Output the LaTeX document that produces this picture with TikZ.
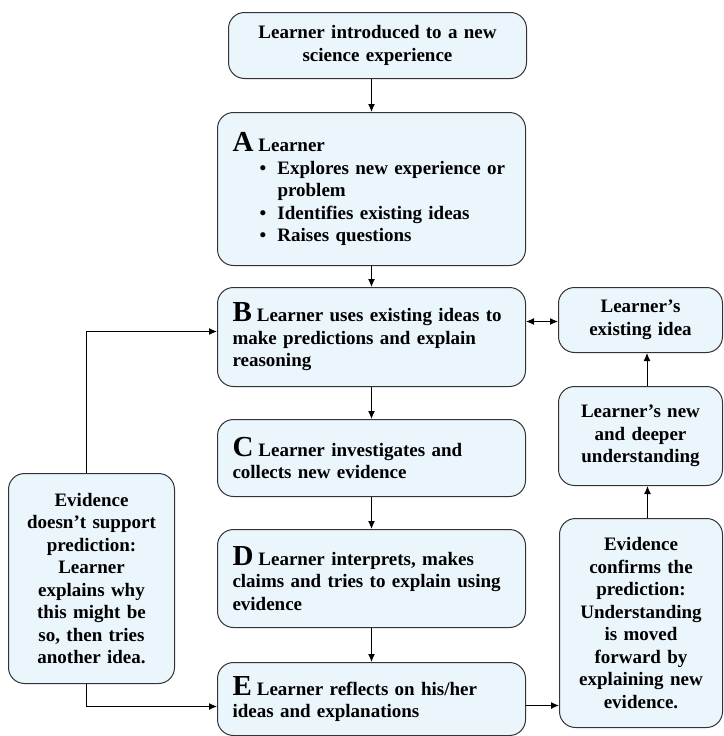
\documentclass[tikz,border=0pt]{standalone}
\usepackage{fontspec}
\setmainfont{Liberation Serif}
\usetikzlibrary{arrows.meta}
\definecolor{boxblue}{HTML}{EAF5FC}
\newcommand{\stageletter}[1]{{\fontsize{29}{22}\selectfont #1}\hspace{5pt}}
\newcommand{\stagebullet}{\hspace*{27pt}\makebox[18pt][l]{\textbullet}}

\begin{document}
\begin{tikzpicture}[x=1pt,y=-1pt,
    box/.style={draw=black!80, fill=boxblue, rounded corners=16pt, anchor=north west,
        inner xsep=8pt, line width=1pt, font=\bfseries\fontsize{19}{22.5}\selectfont},
    stagebox/.style={box, inner xsep=15pt, minimum width=308pt, text width=278pt, align=left},
    sidebox/.style={box, align=center},
    arr/.style={-{Latex[length=8pt,width=7pt]}, line width=1pt}]
    \useasboundingbox (0,0) rectangle (723,736);
    % main column
    \node[sidebox, minimum width=298pt, minimum height=66pt, text width=282pt]
        (intro) at (228,12) {Learner introduced to a new\\science experience};
    \node[stagebox, minimum height=153pt] (stepA) at (217,112) {\stageletter{A}Learner\\
        \stagebullet Explores new experience or\\
        \hspace*{45pt}problem\\
        \stagebullet Identifies existing ideas\\
        \stagebullet Raises questions};
    \node[stagebox, minimum height=99pt] (stepB) at (217,287) {\stageletter{B}Learner uses existing ideas to\\
        make predictions and explain\\reasoning};
    \node[stagebox, minimum height=77pt] (stepC) at (217,419)
        {\stageletter{C}Learner investigates and\\collects new evidence};
    \node[stagebox, minimum height=98pt] (stepD) at (217,529) {\stageletter{D}Learner interprets, makes\\
        claims and tries to explain using\\evidence};
    \node[stagebox, minimum height=73pt] (stepE) at (217,662)
        {\stageletter{E}Learner reflects on his/her\\ideas and explanations};
    % side boxes
    \node[sidebox, minimum width=166pt, minimum height=210pt, text width=150pt]
        (notsupport) at (8,473) {Evidence\\doesn't support\\prediction:\\Learner\\explains why\\
        this might be\\so, then tries\\another idea.};
    \node[sidebox, minimum width=164pt, minimum height=65pt, text width=148pt]
        (existing) at (558,287) {Learner's\\existing idea};
    \node[sidebox, minimum width=164pt, minimum height=99pt, text width=148pt]
        (deeper) at (558,386) {Learner's new\\and deeper\\understanding};
    \node[sidebox, minimum width=163pt, minimum height=209pt, text width=147pt]
        (confirms) at (559,518) {Evidence\\confirms the\\prediction:\\Understanding\\is moved\\
        forward by\\explaining new\\evidence.};
    % connectors
    \draw[arr] (intro.south -| stepA.north) -- (stepA.north);
    \draw[arr] (stepA) -- (stepB);
    \draw[arr] (stepB) -- (stepC);
    \draw[arr] (stepC) -- (stepD);
    \draw[arr] (stepD) -- (stepE);
    \draw[arr] ([xshift=-5pt]notsupport.north) |- ([yshift=5.5pt]stepB.west);
    \draw[arr] ([xshift=-5pt]notsupport.south) |- ([yshift=-7.5pt]stepE.west);
    \draw[arr] ([yshift=-6.5pt]stepE.east) -- ([yshift=-6.5pt]stepE.east -| confirms.west);
    \draw[arr] ([xshift=6.5pt]confirms.north) -- ([xshift=6.5pt]confirms.north |- deeper.south);
    \draw[arr] ([xshift=6.5pt]deeper.north) -- ([xshift=6.5pt]deeper.north |- existing.south);
    \draw[{Latex[length=8pt,width=7pt]}-{Latex[length=8pt,width=7pt]}, line width=1pt]
        ([yshift=-1.5pt]existing.west -| stepB.east) -- ([yshift=-1.5pt]existing.west);
\end{tikzpicture}
\end{document}
